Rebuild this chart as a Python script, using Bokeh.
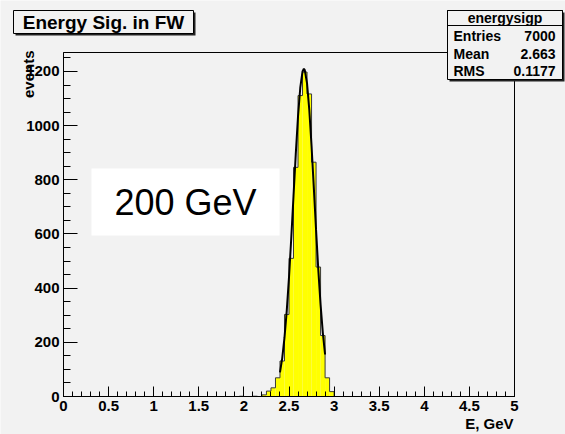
import numpy as np
from bokeh.plotting import figure
from bokeh.models import Range1d, FixedTicker, BoxAnnotation, Label
from bokeh.embed import file_html
from bokeh.resources import INLINE

# ---------------- data ----------------
x_min, x_max = 0.0, 5.0
bin_width = 0.05
nonzero_bin_lo = [1.95, 2.10, 2.20, 2.25, 2.30, 2.35, 2.40, 2.45, 2.50, 2.55,
                  2.60, 2.65, 2.70, 2.75, 2.80, 2.85, 2.90, 2.95]
nonzero_counts = [1, 1, 6, 20, 32, 69, 131, 303, 510, 846,
                  1111, 1198, 1117, 865, 478, 225, 69, 18]

fit_x = [2.400, 2.425, 2.450, 2.475, 2.500, 2.525, 2.550, 2.575, 2.600, 2.625,
         2.650, 2.665, 2.675, 2.700, 2.725, 2.750, 2.775, 2.800, 2.825, 2.850,
         2.875, 2.900]
fit_y = [89, 142, 217, 316, 440, 584, 740, 895, 1034, 1140,
         1200, 1210, 1205, 1156, 1058, 925, 772, 615, 467, 339,
         235, 155]

x_ticks = [0, 0.5, 1, 1.5, 2, 2.5, 3, 3.5, 4, 4.5, 5]
x_tick_labels = ["0", "0.5", "1", "1.5", "2", "2.5", "3", "3.5", "4", "4.5", "5"]
y_ticks = [0, 200, 400, 600, 800, 1000, 1200]
y_min, y_max = 0, 1270

title_text = "Energy Sig. in FW"
stats_title = "energysigp"
stats_names = ["Entries", "Mean", "RMS"]
stats_values = ["7000", "2.663", "0.1177"]
x_title = "E, GeV"
y_title = "events"
note_text = "200 GeV"

# ---------------- layout ----------------
W, H = 565, 434
FL, FR, FT, FB = 63, 514, 52, 396   # frame edges in canvas pixels
BG = "#f2f2f2"
FONT = "Liberation Sans"

# ranges chosen so the data frame sits at FL..FR, FT..FB of a full-canvas plot area
kx = (x_max - x_min) / (FR - FL)
ky = (y_max - y_min) / (FB - FT)
x_range = Range1d(x_min - FL * kx, x_max + (W - FR) * kx)
y_range = Range1d(y_min - (H - FB) * ky, y_max + FT * ky)

def sx(x):
    return x

def sy(y):
    return H - y

p = figure(width=W, height=H, x_range=x_range, y_range=y_range,
           output_backend="svg", toolbar_location=None,
           min_border_left=0, min_border_right=0, min_border_top=0, min_border_bottom=0)
p.background_fill_color = BG
p.border_fill_color = BG
p.grid.visible = False
p.outline_line_color = None

def box(l, t, r, b, fill, line=None, units="screen"):
    if units == "screen":
        l, r, t, b = sx(l), sx(r), sy(t), sy(b)
    return BoxAnnotation(left=l, right=r, top=t, bottom=b,
                         left_units=units, right_units=units,
                         top_units=units, bottom_units=units,
                         fill_color=fill if fill else "white", fill_alpha=1 if fill else 0,
                         line_color=line, line_alpha=1, line_width=1,
                         level="underlay" if units == "data" else "annotation")

# histogram
n_bins = int(round((x_max - x_min) / bin_width))
edges = x_min + bin_width * np.arange(n_bins + 1)
counts = np.zeros(n_bins)
for lo, c in zip(nonzero_bin_lo, nonzero_counts):
    counts[int(round((lo - x_min) / bin_width))] = c

nz = counts > 0
p.quad(left=edges[:-1][nz], right=edges[1:][nz], bottom=0, top=counts[nz],
       fill_color="#ffff00", line_color=None)
step_y = np.append(counts, counts[-1])
p.step(x=edges, y=step_y, mode="after", line_color="#3a3a3a", line_width=1)

# fit curve
p.line(fit_x, fit_y, line_color="black", line_width=2)

# frame box
p.add_layout(BoxAnnotation(left=x_min, right=x_max, bottom=y_min, top=y_max,
                           fill_alpha=0, line_color="black", line_alpha=1, line_width=1))

# axes at fixed locations inside the full-canvas plot area
xa = p.xaxis[0]
ya = p.yaxis[0]
xa.fixed_location = y_min
ya.fixed_location = x_min
xa.bounds = (x_min, x_max)
ya.bounds = (y_min, y_max)
xa.ticker = FixedTicker(ticks=x_ticks, minor_ticks=[round(0.1 * i, 1) for i in range(51)])
xa.major_label_overrides = {float(t): l for t, l in zip(x_ticks, x_tick_labels)}
ya.ticker = FixedTicker(ticks=y_ticks, minor_ticks=list(range(0, y_max + 1, 50)))
for ax in (xa, ya):
    ax.axis_line_color = "black"
    ax.major_tick_line_color = "black"
    ax.minor_tick_line_color = "black"
    ax.major_tick_out = 0
    ax.minor_tick_out = 0
    ax.major_label_text_font = FONT
    ax.major_label_text_font_style = "bold"
    ax.major_label_text_font_size = "15px"
    ax.major_label_text_color = "black"
xa.major_tick_in = 10
xa.minor_tick_in = 5
ya.major_tick_in = 14
ya.minor_tick_in = 7
xa.major_label_standoff = 4
ya.major_label_standoff = 4

def label(x, y, text, size, bold=True, align="center", angle=0.0):
    return Label(x=sx(x), y=sy(y), x_units="screen", y_units="screen", text=text,
                 angle=angle, text_align=align, text_baseline="middle",
                 text_font=FONT, text_font_style="bold" if bold else "normal",
                 text_font_size=size, text_color="black")

# axis titles
p.add_layout(label(28, 50, y_title, "15px", align="right", angle=np.pi / 2))
p.add_layout(label(513, 423, x_title, "15px", align="right"))

# white note box
p.add_layout(box(91, 168, 279, 235, "white"))
p.add_layout(label(185, 202, note_text, "36px", bold=False))

# title box
p.add_layout(box(15, 12, 195, 35, "#222222"))
p.add_layout(box(13, 10, 193, 33, BG, "black"))
p.add_layout(label(103, 21.5, title_text, "19px"))

# stats box
p.add_layout(box(449, 12, 564, 81, "#222222"))
p.add_layout(box(447, 10, 562, 79, BG, "black"))
p.add_layout(box(447, 10, 562, 25, None, "black"))
p.add_layout(label(504.5, 17.5, stats_title, "14px"))
row_y = [35.7, 53.3, 70.7]
for name, val, ry in zip(stats_names, stats_values, row_y):
    p.add_layout(label(453, ry, name, "14px", align="left"))
    p.add_layout(label(555, ry, val, "14px", align="right"))

open("out.html", "w").write(file_html(p, INLINE))
